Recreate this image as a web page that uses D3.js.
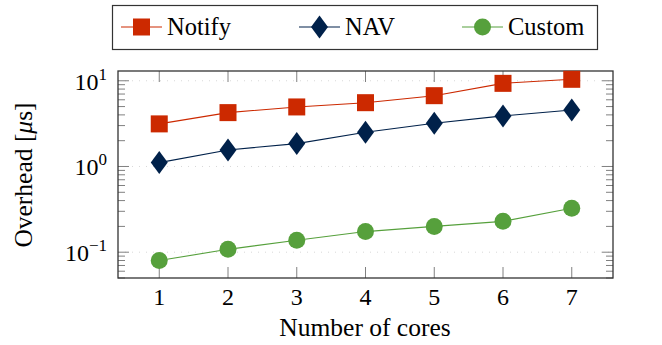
<!DOCTYPE html>
<html lang="en">
<head>
<meta charset="utf-8">
<script src="https://d3js.org/d3.v7.min.js"></script>
<style>
  body { margin: 0; background: #fff; }
</style>
</head>
<body>
<div id="graph"></div>
<script>
// data
var cores = [1, 2, 3, 4, 5, 6, 7];
var notify = [3.14, 4.25, 4.95, 5.55, 6.7, 9.33, 10.4];
var nav = [1.11, 1.56, 1.85, 2.51, 3.2, 3.89, 4.56];
var custom = [0.08, 0.108, 0.138, 0.174, 0.2, 0.229, 0.325];
var seriesNames = ["Notify", "NAV", "Custom"];
var yTicks = [0.1, 1, 10];
var yTickExp = ["\u22121", "0", "1"];

var W = 662, H = 345;
var m = {left: 118, right: 49, top: 71, bottom: 67};
var FONT = "Liberation Serif, Tinos, Times New Roman, DejaVu Serif, serif";

var svg = d3.select('#graph').append('svg').attr('width', W).attr('height', H)
  .attr('font-family', FONT);

var x = d3.scaleLinear().domain([0.4, 7.6]).range([m.left, W - m.right]);
var y = d3.scaleLog().domain([0.05, 13]).range([H - m.bottom, m.top]);

var colors = {Notify: "#cc2900", NAV: "#00214a", Custom: "#56a03c"};
var data = {Notify: notify, NAV: nav, Custom: custom};

// grid
svg.append('g').selectAll('line').data(yTicks).enter().append('line')
  .attr('x1', m.left).attr('x2', W - m.right)
  .attr('y1', function(d){ return y(d); }).attr('y2', function(d){ return y(d); })
  .attr('stroke', '#d8d8d8').attr('stroke-width', 1).attr('stroke-dasharray', '1,6');

// minor ticks on y (both sides)
var minor = [];
[0.01, 0.1, 1, 10].forEach(function(dec){
  for (var k = 2; k <= 9; k++) {
    var v = dec * k;
    if (v >= 0.05 && v <= 13) minor.push(v);
  }
});
var tickCol = '#808080';
var ax = svg.append('g');
minor.forEach(function(v){
  ax.append('line').attr('x1', m.left).attr('x2', m.left + 7).attr('y1', y(v)).attr('y2', y(v))
    .attr('stroke', tickCol).attr('stroke-width', 1);
  ax.append('line').attr('x1', W - m.right).attr('x2', W - m.right - 7).attr('y1', y(v)).attr('y2', y(v))
    .attr('stroke', tickCol).attr('stroke-width', 1);
});
yTicks.forEach(function(v){
  ax.append('line').attr('x1', m.left).attr('x2', m.left + 11).attr('y1', y(v)).attr('y2', y(v))
    .attr('stroke', tickCol).attr('stroke-width', 1);
  ax.append('line').attr('x1', W - m.right).attr('x2', W - m.right - 11).attr('y1', y(v)).attr('y2', y(v))
    .attr('stroke', tickCol).attr('stroke-width', 1);
});
cores.forEach(function(c){
  ax.append('line').attr('x1', x(c)).attr('x2', x(c)).attr('y1', H - m.bottom).attr('y2', H - m.bottom - 11)
    .attr('stroke', tickCol).attr('stroke-width', 1);
  ax.append('line').attr('x1', x(c)).attr('x2', x(c)).attr('y1', m.top).attr('y2', m.top + 11)
    .attr('stroke', tickCol).attr('stroke-width', 1);
});

// frame
svg.append('rect').attr('x', m.left).attr('y', m.top)
  .attr('width', W - m.left - m.right).attr('height', H - m.top - m.bottom)
  .attr('fill', 'none').attr('stroke', '#333').attr('stroke-width', 1.3);

// x tick labels
svg.append('g').selectAll('text').data(cores).enter().append('text')
  .attr('x', function(d){ return x(d); }).attr('y', 305)
  .attr('text-anchor', 'middle').attr('font-size', 24).text(function(d){ return d; });

// y tick labels 10^n
yTicks.forEach(function(v, i){
  var t = svg.append('text').attr('x', 107).attr('y', y(v) + 9)
    .attr('text-anchor', 'end').attr('font-size', 24);
  t.append('tspan').text('10');
  t.append('tspan').attr('dy', -10).attr('font-size', 17).text(yTickExp[i]);
});

// axis labels
svg.append('text').attr('x', 365).attr('y', 336).attr('text-anchor', 'middle')
  .attr('font-size', 25.5).text('Number of cores');
var yl = svg.append('text').attr('transform', 'translate(32,175) rotate(-90)')
  .attr('text-anchor', 'middle').attr('font-size', 25.5);
yl.append('tspan').text('Overhead [');
yl.append('tspan').attr('font-style', 'italic').text('\u03bc');
yl.append('tspan').text('s]');

// markers
function marker(g, name) {
  var col = colors[name];
  if (name === 'Notify') {
    g.append('rect').attr('x', -8.5).attr('y', -8.5).attr('width', 17).attr('height', 17).attr('fill', col);
  } else if (name === 'NAV') {
    g.append('path').attr('d', 'M0,-11.5L8.5,0L0,11.5L-8.5,0Z').attr('fill', col);
  } else {
    g.append('circle').attr('r', 8.5).attr('fill', col);
  }
}

var line = d3.line().x(function(d, i){ return x(cores[i]); }).y(function(d){ return y(d); });
seriesNames.forEach(function(name){
  svg.append('path').datum(data[name]).attr('d', line)
    .attr('fill', 'none').attr('stroke', colors[name]).attr('stroke-width', 1.1);
  data[name].forEach(function(v, i){
    var g = svg.append('g').attr('transform', 'translate(' + x(cores[i]) + ',' + y(v) + ')');
    marker(g, name);
  });
});

// legend
var lg = svg.append('g');
lg.append('rect').attr('x', 112.5).attr('y', 5.5).attr('width', 485).attr('height', 44)
  .attr('fill', '#fff').attr('stroke', '#333').attr('stroke-width', 1.2);
var legX = [121, 299, 462];
seriesNames.forEach(function(name, i){
  var g = lg.append('g').attr('transform', 'translate(' + legX[i] + ',27)');
  g.append('line').attr('x1', 0).attr('x2', 41).attr('stroke', colors[name]).attr('stroke-width', 1.1);
  var mg = g.append('g').attr('transform', 'translate(20.5,0)');
  marker(mg, name);
  g.append('text').attr('x', 46).attr('y', 8).attr('font-size', 24.5).text(name);
});
</script>
</body>
</html>
